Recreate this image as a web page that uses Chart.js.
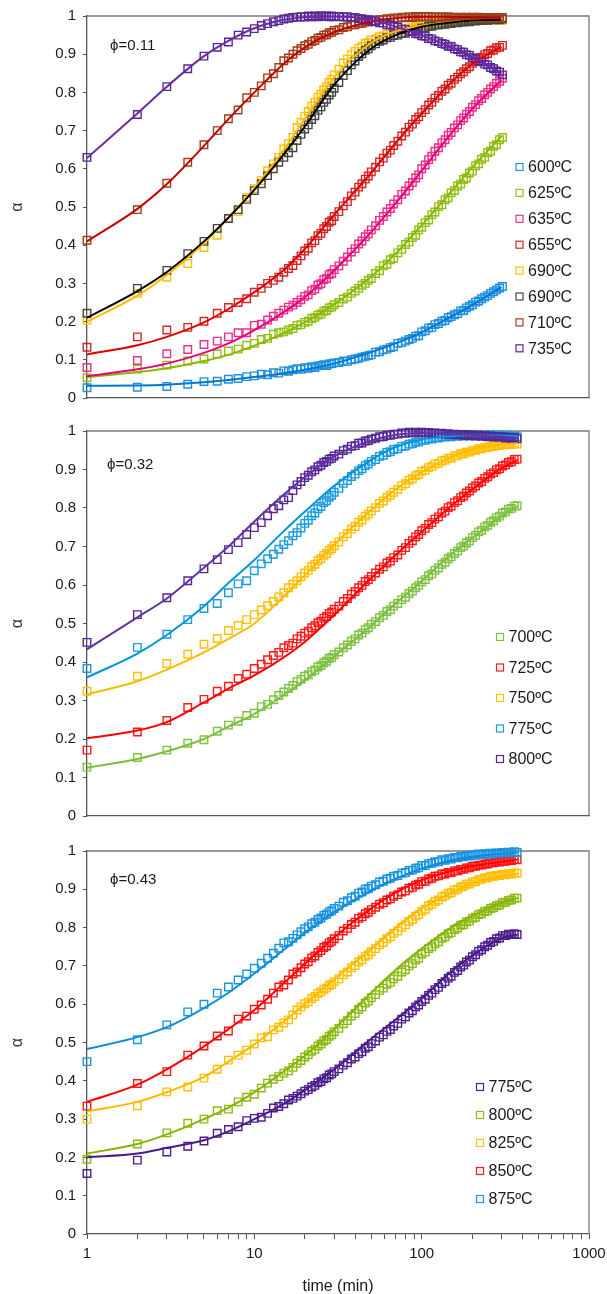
<!DOCTYPE html>
<html>
<head>
<meta charset="utf-8">
<title>alpha vs time</title>
<script src="https://cdn.jsdelivr.net/npm/chart.js@4.4.0/dist/chart.umd.min.js"></script>
<style>
  html, body { margin: 0; padding: 0; background: #fff; overflow: hidden; }
  #wrap { position: relative; width: 607px; height: 1294px; overflow: hidden; }
  canvas { position: absolute; left: 0; }
</style>
</head>
<body>
<div id="wrap">
  <canvas id="c1" width="612" height="415" style="top:0px"></canvas>
  <canvas id="c2" width="612" height="420" style="top:415px"></canvas>
  <canvas id="c3" width="612" height="461" style="top:835px"></canvas>
</div>
<script>
// time (min) of the measured points
const timesA = [1,2,3,4,5,6,7,8,9,10,11,12,13,14,15,16,17,18,19,
  20,21,22,23,24,25,26,27,28,29,30, 32,34,36,38,40,42,44,46,48,50, 53,56,59,62,65,68,
  72,76,80,84,88,92,96,100, 105,110,115,120, 126,132,138,144,150, 157,164,171,178,185,
  193,201,210,219,228, 238,248,258,269,280, 292,304];
const timesB = timesA.concat([317,330,344,358,372]);
// time (min) of the fitted curve points
const fitTimesA = [1,2,3,5,7,10,15,20,30,50,70,100,150,200,300];
const fitTimesB = [1,2,3,5,7,10,15,20,30,50,70,100,150,200,300,375];

const xTicks = [1,2,3,4,5,6,7,8,9,10,20,30,40,50,60,70,80,90,100,200,300,400,500,600,700,800,900,1000];
const xLabels = [1,10,100,1000];

// phi = 0.11
const names1 = ['600ºC','625ºC','635ºC','655ºC','690ºC','690ºC','710ºC','735ºC'];
const a600 = [.027,.028,.030,.036,.043,.044,.049,.051,.056,.058,.062,.061,.066,.065,.071,.070,.074,.077,.075,
  .079,.078,.082,.080,.084,.085,.087,.085,.089,.090,.092, .093,.097,.096,.100,.102,.104,.107,.109,.111,.113,
  .120,.121,.126,.128,.132,.134, .143,.145,.149,.153,.156,.162,.163,.173, .176,.183,.185,.192,
  .195,.201,.203,.210,.213, .218,.221,.228,.229,.236, .240,.244,.251,.254,.260, .264,.268,.274,.278,.283, .288,.292];
const a625 = [.053,.076,.086,.097,.102,.115,.123,.128,.138,.143,.153,.156,.167,.171,.173,.178,.182,.190,.192,
  .198,.201,.208,.211,.217,.220,.227,.229,.236,.238,.244, .250,.259,.264,.274,.280,.287,.295,.300,.308,.313,
  .326,.333,.346,.350,.362,.366, .380,.389,.402,.408,.420,.426,.440,.447, .459,.466,.480,.487,
  .501,.506,.519,.524,.537, .543,.555,.560,.572,.576, .589,.594,.608,.613,.625, .630,.642,.646,.659,.663, .676,.682];
const a635 = [.080,.098,.116,.127,.140,.149,.160,.171,.171,.190,.193,.204,.214,.222,.230,.238,.243,.250,.257,
  .266,.270,.281,.285,.296,.299,.310,.313,.323,.326,.336, .346,.358,.369,.382,.391,.403,.411,.422,.429,.440,
  .451,.465,.475,.487,.496,.508, .519,.533,.542,.555,.564,.576,.584,.600, .610,.624,.633,.646,
  .655,.668,.676,.688,.695, .707,.715,.726,.733,.743, .750,.761,.768,.778,.784, .794,.800,.809,.815,.824, .829,.837];
const a655 = [.133,.160,.178,.185,.201,.222,.237,.250,.260,.277,.287,.300,.308,.316,.329,.339,.347,.360,.372,
  .385,.392,.406,.412,.425,.431,.443,.449,.460,.464,.475, .488,.503,.514,.529,.539,.552,.561,.573,.581,.592,
  .604,.618,.628,.641,.649,.661, .672,.686,.696,.709,.717,.729,.736,.747, .755,.767,.774,.785,
  .792,.803,.809,.819,.824, .834,.840,.849,.854,.862, .867,.876,.881,.889,.892, .899,.902,.909,.911,.917, .918,.923];
const a690y = [.204,.274,.316,.352,.394,.426,.470,.488,.525,.548,.569,.595,.613,.630,.652,.666,.682,.708,.722,
  .738,.750,.764,.774,.787,.795,.807,.815,.826,.834,.846, .861,.877,.887,.899,.907,.916,.921,.928,.931,.937,
  .940,.946,.948,.953,.954,.959, .960,.964,.965,.969,.969,.973,.972,.976, .976,.979,.979,.982,
  .981,.984,.983,.986,.984, .987,.985,.988,.986,.989, .987,.989,.988,.990,.988, .991,.989,.991,.989,.990, .991,.989];
const a690k = [.222,.287,.334,.378,.410,.444,.470,.493,.520,.543,.561,.582,.600,.617,.630,.642,.655,.674,.690,
  .704,.715,.729,.739,.753,.762,.774,.782,.793,.800,.811, .826,.844,.857,.872,.882,.894,.901,.910,.914,.922,
  .927,.934,.937,.943,.944,.949, .950,.954,.955,.959,.959,.963,.963,.968, .969,.973,.973,.977,
  .976,.979,.978,.981,.980, .983,.982,.985,.984,.986, .985,.988,.987,.989,.988, .990,.989,.991,.990,.992, .990,.992];
const a710 = [.413,.493,.562,.617,.663,.700,.731,.754,.786,.800,.817,.838,.849,.865,.883,.890,.900,.909,.915,
  .922,.926,.933,.936,.942,.944,.950,.951,.956,.957,.962, .964,.970,.972,.977,.977,.981,.981,.985,.984,.987,
  .987,.990,.990,.993,.992,.995, .994,.997,.995,.998,.996,.999,.997,.999, .997,.999,.997,.998,
  .996,.998,.996,.998,.996, .997,.995,.997,.995,.997, .995,.997,.995,.997,.994, .996,.994,.996,.994,.996, .994,.996];
const a735 = [.630,.742,.815,.862,.895,.918,.932,.950,.958,.967,.975,.980,.985,.988,.992,.994,.996,.997,.998,
  .997,1.0,.998,1.0,.998,1.001,.999,1.0,.998,1.0,.998, .999,.997,.998,.995,.996,.993,.993,.990,.990,.987,
  .986,.982,.982,.977,.977,.973, .971,.966,.965,.960,.959,.954,.953,.948, .947,.941,.940,.935,
  .933,.928,.926,.921,.920, .914,.912,.906,.905,.899, .897,.891,.888,.882,.880, .874,.872,.865,.862,.856, .853,.846];
const f600 = [.032,.033,.035,.041,.047,.055,.065,.074,.090,.120,.143,.172,.213,.243,.290];
const f625 = [.055,.068,.078,.097,.113,.137,.170,.198,.245,.318,.378,.452,.540,.603,.685];
const f635 = [.057,.075,.090,.118,.143,.178,.225,.264,.334,.435,.510,.595,.693,.757,.832];
const f655 = [.114,.138,.160,.198,.233,.277,.335,.390,.480,.590,.668,.745,.826,.874,.920];
const f690y = [.200,.268,.322,.405,.472,.550,.650,.730,.840,.930,.960,.975,.984,.988,.990];
const f690k = [.210,.280,.330,.410,.472,.545,.638,.710,.820,.915,.950,.972,.983,.988,.990];
const f710 = [.410,.495,.560,.660,.730,.800,.875,.918,.958,.985,.994,.998,.998,.997,.996];
const f735 = [.628,.745,.815,.895,.935,.968,.990,.997,.999,.990,.972,.950,.918,.893,.850];

// phi = 0.32
const names2 = ['700ºC','725ºC','750ºC','775ºC','800ºC'];
const b700 = [.127,.152,.171,.189,.198,.220,.236,.246,.261,.267,.284,.290,.302,.313,.322,.331,.339,.349,.355,
  .363,.367,.375,.379,.387,.391,.398,.402,.409,.412,.419, .426,.437,.444,.454,.460,.470,.475,.484,.489,.498,
  .505,.515,.521,.531,.536,.545, .552,.562,.568,.578,.584,.593,.599,.608, .614,.624,.629,.638,
  .644,.654,.659,.668,.673, .682,.688,.697,.701,.709, .714,.723,.729,.738,.742, .751,.755,.763,.767,.775, .779,.787,
  .790,.797,.799,.805,.806];
const b725 = [.171,.218,.248,.282,.303,.324,.337,.357,.368,.383,.394,.406,.417,.425,.437,.443,.449,.460,.467,
  .475,.480,.489,.494,.502,.506,.514,.518,.526,.530,.537, .545,.557,.565,.576,.583,.593,.599,.609,.614,.622,
  .631,.641,.647,.657,.662,.671, .678,.690,.697,.708,.715,.725,.731,.741, .747,.757,.762,.771,
  .777,.787,.792,.801,.805, .814,.819,.827,.831,.839, .844,.852,.857,.865,.869, .877,.881,.888,.892,.899, .902,.909,
  .912,.918,.920,.926,.927];
const b750 = [.324,.363,.396,.420,.446,.461,.482,.495,.510,.523,.535,.546,.557,.569,.580,.593,.602,.611,.621,
  .631,.638,.648,.654,.663,.668,.677,.682,.690,.694,.702, .712,.725,.733,.745,.752,.763,.769,.779,.784,.792,
  .801,.812,.818,.828,.833,.841, .848,.858,.863,.872,.876,.884,.887,.895, .898,.905,.908,.914,
  .916,.922,.924,.929,.930, .935,.936,.941,.941,.945, .945,.949,.950,.954,.954, .957,.957,.960,.960,.963, .962,.965,
  .964,.966,.965,.967,.966];
const b775 = [.383,.438,.472,.510,.539,.552,.580,.603,.611,.637,.655,.668,.680,.693,.705,.715,.728,.736,.748,
  .760,.768,.780,.787,.798,.804,.814,.819,.828,.833,.841, .851,.864,.871,.882,.888,.897,.902,.910,.914,.921,
  .926,.934,.937,.944,.946,.952, .954,.960,.961,.966,.967,.971,.971,.976, .976,.980,.979,.983,
  .982,.985,.984,.987,.985, .988,.986,.989,.987,.989, .987,.990,.988,.990,.988, .990,.988,.990,.987,.989, .987,.989,
  .986,.988,.986,.987,.985];
const b800 = [.451,.523,.567,.611,.642,.666,.692,.710,.731,.749,.762,.780,.798,.806,.821,.827,.845,.860,.869,
  .879,.885,.894,.899,.907,.911,.918,.921,.927,.929,.935, .940,.949,.953,.960,.962,.968,.969,.974,.975,.979,
  .981,.985,.985,.989,.989,.992, .992,.995,.994,.997,.995,.997,.995,.997, .995,.996,.994,.995,
  .993,.994,.992,.993,.991, .992,.990,.991,.989,.991, .988,.990,.987,.989,.986, .988,.985,.987,.984,.986, .984,.985,
  .982,.984,.981,.983,.980];
const g700 = [.125,.148,.168,.200,.232,.265,.315,.352,.415,.495,.552,.610,.680,.722,.778,.805];
const g725 = [.202,.222,.244,.295,.331,.365,.412,.452,.522,.618,.678,.738,.805,.848,.903,.925];
const g750 = [.316,.350,.380,.425,.460,.500,.570,.625,.705,.795,.848,.893,.932,.952,.965,.968];
const g775 = [.360,.422,.470,.545,.605,.665,.740,.790,.858,.925,.958,.978,.986,.989,.988,.987];
const g800 = [.433,.516,.565,.645,.700,.765,.835,.880,.935,.975,.990,.995,.993,.990,.985,.981];

// phi = 0.43
const names3 = ['775ºC','800ºC','825ºC','850ºC','875ºC'];
const c775 = [.158,.193,.214,.229,.243,.263,.273,.280,.296,.302,.305,.315,.329,.333,.340,.350,.354,.360,.366,
  .373,.377,.384,.388,.395,.398,.405,.408,.415,.418,.424, .431,.441,.447,.457,.462,.471,.476,.485,.489,.497,
  .504,.514,.520,.529,.534,.543, .550,.561,.567,.577,.583,.593,.598,.607, .613,.623,.629,.638,
  .644,.654,.659,.668,.673, .683,.688,.697,.702,.710, .715,.724,.729,.738,.742, .750,.754,.761,.764,.771, .773,.779,
  .779,.783,.782,.784,.782];
const c800 = [.195,.235,.264,.289,.300,.322,.326,.345,.357,.365,.381,.394,.404,.411,.420,.426,.435,.446,.453,
  .462,.468,.477,.482,.491,.496,.504,.508,.516,.520,.528, .537,.549,.557,.569,.576,.587,.593,.603,.608,.617,
  .625,.636,.642,.652,.657,.666, .673,.684,.690,.700,.706,.715,.720,.731, .736,.745,.750,.758,
  .763,.772,.776,.784,.787, .795,.799,.806,.808,.815, .817,.824,.827,.834,.836, .842,.844,.850,.852,.857, .859,.865,
  .866,.871,.872,.877,.877];
const c825 = [.300,.335,.371,.384,.407,.430,.454,.467,.480,.496,.512,.515,.533,.540,.551,.559,.572,.585,.593,
  .601,.606,.615,.620,.628,.632,.639,.642,.649,.652,.659, .666,.677,.684,.695,.701,.711,.716,.725,.729,.737,
  .745,.755,.761,.771,.776,.785, .791,.801,.807,.816,.821,.830,.834,.843, .848,.857,.861,.868,
  .872,.880,.883,.889,.891, .898,.900,.906,.908,.913, .914,.919,.920,.925,.926, .930,.930,.934,.934,.937, .936,.939,
  .938,.941,.940,.943,.942];
const c850 = [.334,.393,.424,.467,.491,.517,.530,.561,.569,.587,.598,.613,.629,.645,.650,.663,.679,.684,.695,
  .705,.711,.721,.726,.735,.740,.748,.752,.760,.764,.771, .779,.791,.798,.808,.814,.824,.828,.836,.840,.847,
  .853,.861,.865,.872,.875,.882, .886,.893,.896,.903,.905,.911,.913,.920, .921,.927,.929,.934,
  .935,.940,.940,.944,.944, .948,.948,.952,.952,.956, .956,.960,.960,.963,.963, .966,.966,.969,.969,.972, .971,.974,
  .973,.976,.975,.978,.977];
const c875 = [.450,.507,.546,.580,.600,.629,.645,.663,.679,.694,.707,.720,.733,.746,.760,.763,.772,.781,.789,
  .797,.802,.810,.814,.821,.825,.832,.835,.841,.844,.850, .856,.866,.870,.878,.882,.890,.893,.900,.902,.908,
  .912,.919,.921,.927,.929,.934, .936,.942,.944,.949,.950,.955,.956,.962, .962,.967,.968,.972,
  .972,.977,.976,.980,.979, .983,.982,.986,.985,.988, .987,.990,.989,.992,.991, .993,.992,.994,.993,.995, .994,.996,
  .995,.997,.996,.998,.996];
const h775 = [.200,.210,.225,.245,.268,.300,.340,.375,.430,.510,.560,.615,.685,.727,.772,.782];
const h800 = [.210,.235,.260,.300,.330,.370,.425,.465,.535,.630,.690,.745,.800,.830,.865,.877];
const h825 = [.320,.345,.370,.410,.450,.495,.555,.600,.665,.745,.800,.850,.890,.915,.935,.940];
const h850 = [.345,.390,.430,.490,.535,.585,.655,.705,.775,.850,.892,.924,.948,.960,.972,.978];
const h875 = [.483,.514,.540,.590,.630,.680,.742,.786,.840,.896,.928,.954,.975,.985,.993,.996];

const FONT = "'Liberation Sans', Arial, sans-serif";
Chart.defaults.font.family = FONT;

// marker colour / line colour for each series
const panels = [
  {
    id: 'c1', padTop: 15, xHeight: 17, showX: false,
    label: '\u03d5=0.11', labelX: 23, labelY: 30,
    legendX: 69.5, legendY: 151, legendGap: 25.9,
    times: timesA, fitTimes: fitTimesA, names: names1,
    values: [a600, a625, a635, a655, a690y, a690k, a710, a735],
    fits: [f600, f625, f635, f655, f690y, f690k, f710, f735],
    marker: ['#1E90E0', '#93BE12', '#EC2F88', '#D42626', '#FFC000', '#454545', '#A33E16', '#5A2598'],
    line: ['#0078D0', '#8AB800', '#E6007E', '#E00000', '#FFBA00', '#000000', '#C00000', '#6A2CA0']
  },
  {
    id: 'c2', padTop: 15, xHeight: 19, showX: false,
    label: '\u03d5=0.32', labelX: 20, labelY: 34,
    legendX: 89, legendY: 206, legendGap: 30.5,
    times: timesB, fitTimes: fitTimesB, names: names2,
    values: [b700, b725, b750, b775, b800],
    fits: [g700, g725, g750, g775, g800],
    marker: ['#7DC242', '#FF1A1A', '#FFC000', '#1A9AE0', '#55259A'],
    line: ['#7DBF3A', '#FF0000', '#FFB900', '#0094DA', '#6034A0']
  },
  {
    id: 'c3', padTop: 16, xHeight: 62, showX: true,
    label: '\u03d5=0.43', labelX: 23, labelY: 29,
    legendX: 109, legendY: 236, legendGap: 28,
    times: timesB, fitTimes: fitTimesB, names: names3,
    values: [c775, c800, c825, c850, c875],
    fits: [h775, h800, h825, h850, h875],
    marker: ['#4E1F8F', '#8CBA10', '#FFC000', '#FF1414', '#1A94E0'],
    line: ['#4B1A8A', '#86B400', '#FFBA00', '#FF0000', '#0A8CDC']
  }
];

// frame on top/right, phi label and the legend inside the plot area
const panelDecor = {
  id: 'panelDecor',
  beforeDatasetsDraw(chart, args, opts) {
    const a = chart.chartArea, ctx = chart.ctx;
    ctx.save();
    ctx.strokeStyle = '#7a7a7a';
    ctx.lineWidth = 1.3;
    ctx.beginPath();
    ctx.moveTo(a.left, a.top);
    ctx.lineTo(a.right, a.top);
    ctx.lineTo(a.right, a.bottom);
    ctx.stroke();
    ctx.restore();
  },
  afterDatasetsDraw(chart, args, opts) {
    const a = chart.chartArea, ctx = chart.ctx;
    ctx.save();
    ctx.textBaseline = 'middle';
    ctx.fillStyle = '#1a1a1a';
    ctx.font = '15px ' + FONT;
    ctx.fillText(opts.label, a.left + opts.labelX, a.top + opts.labelY);
    ctx.font = '16px ' + FONT;
    opts.items.forEach((it, i) => {
      const x = a.right - opts.legendX;
      const y = a.top + opts.legendY + i * opts.legendGap;
      ctx.strokeStyle = it.color;
      ctx.lineWidth = 1.2;
      ctx.strokeRect(x - 3.5, y - 3.5, 7, 7);
      ctx.fillStyle = '#1a1a1a';
      ctx.fillText(it.text, x + 8.5, y + 1);
    });
    ctx.restore();
  }
};

function makePanel(p) {
  const datasets = [];
  p.values.forEach((vals, i) => {
    datasets.push({
      data: p.times.map((t, k) => ({ x: t, y: vals[k] })),
      showLine: false,
      pointStyle: 'rect',
      pointRadius: 5.3,
      pointBorderWidth: 1.4,
      pointBorderColor: p.marker[i],
      pointBackgroundColor: 'rgba(0,0,0,0)',
      borderColor: p.marker[i],
      backgroundColor: 'rgba(0,0,0,0)',
      clip: false,
      order: 100 - i
    });
  });
  p.fits.forEach((vals, i) => {
    datasets.push({
      data: p.fitTimes.map((t, k) => ({ x: t, y: vals[k] })),
      showLine: true,
      pointRadius: 0,
      borderColor: p.line[i],
      borderWidth: 2,
      cubicInterpolationMode: 'monotone',
      fill: false,
      order: 50 - i
    });
  });

  const xScale = {
    type: 'logarithmic',
    min: 1,
    max: 1000,
    afterFit: s => { s.height = p.xHeight; },
    border: { display: true, color: '#555', width: 1.3 }
  };
  if (p.showX) {
    Object.assign(xScale, {
      afterBuildTicks: s => { s.ticks = xTicks.map(v => ({ value: v, major: xLabels.includes(v) })); },
      ticks: {
        autoSkip: false, maxRotation: 0, minRotation: 0, padding: 6,
        color: '#1a1a1a', font: { size: 15 },
        callback: v => xLabels.includes(v) ? String(v) : ''
      },
      grid: { display: true, drawOnChartArea: false, drawTicks: true, tickLength: 5, color: '#555' },
      title: { display: true, text: 'time (min)', color: '#1a1a1a', font: { size: 16 }, padding: { top: 0, bottom: 0 } }
    });
  } else {
    Object.assign(xScale, {
      ticks: { display: false },
      grid: { display: false, drawTicks: false }
    });
  }

  new Chart(document.getElementById(p.id), {
    type: 'scatter',
    data: { datasets: datasets },
    options: {
      responsive: false,
      animation: false,
      devicePixelRatio: 1,
      events: [],
      layout: { padding: { top: p.padTop, right: 23, bottom: 0, left: 0 } },
      scales: {
        x: xScale,
        y: {
          min: 0,
          max: 1,
          afterFit: s => { s.width = 87; },
          ticks: {
            stepSize: 0.1, padding: 7, color: '#1a1a1a', font: { size: 15 },
            callback: v => String(Math.round(v * 10) / 10)
          },
          grid: { display: true, drawOnChartArea: false, drawTicks: true, tickLength: 4, color: '#555' },
          border: { display: true, color: '#555', width: 1.3 },
          title: { display: true, text: 'α', color: '#333', font: { size: 16 }, padding: { top: 8, bottom: 0 } }
        }
      },
      plugins: {
        legend: { display: false },
        tooltip: { enabled: false },
        panelDecor: {
          label: p.label, labelX: p.labelX, labelY: p.labelY,
          legendX: p.legendX, legendY: p.legendY, legendGap: p.legendGap,
          items: p.names.map((t, i) => ({ text: t, color: p.marker[i] }))
        }
      }
    },
    plugins: [panelDecor]
  });
}

panels.forEach(makePanel);
</script>
</body>
</html>
